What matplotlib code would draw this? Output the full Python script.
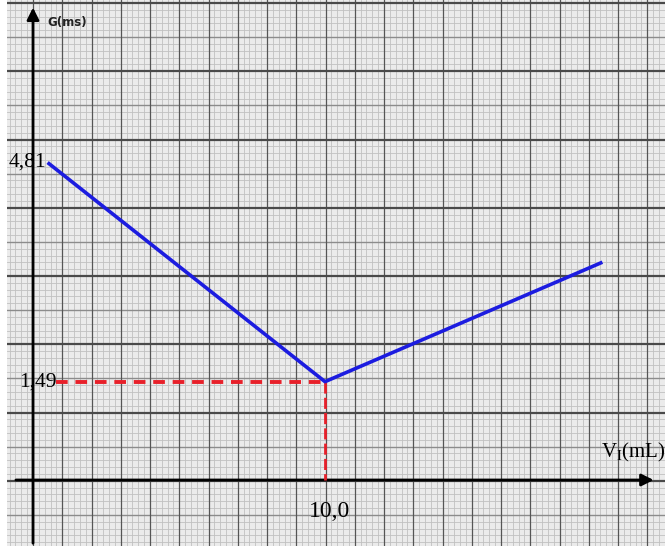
import numpy as np
import matplotlib
matplotlib.use("Agg")
import matplotlib.pyplot as plt

plt.rcParams["mathtext.fontset"] = "custom"
plt.rcParams["mathtext.rm"] = "Liberation Serif"

# Data (V in mL, G in ms)
v_points = [0.5, 10.0, 19.5]
g_points = [4.81, 1.49, 3.30]
v_min = 10.0
g_min = 1.49
g_start = 4.81

fig = plt.figure(figsize=(6.68, 5.46), dpi=100)
fig.patch.set_facecolor("white")
pos = [7 / 668, 0, 658 / 668, 1]

# graph paper background, drawn in pixel units
bg = fig.add_axes(pos)
bg.set_xlim(7, 665)
bg.set_ylim(546, 0)
bg.axis("off")
bg.add_patch(plt.Rectangle((7, 0), 658, 546, color="#ebebeb", zorder=0))
for x in np.arange(33 - 29.25 * 2, 668, 29.25 / 5):
    bg.axvline(x, color="#c0c0c0", lw=0.6, zorder=1)
for y in np.arange(3 - 68.25, 560, 6.825):
    bg.axhline(y, color="#c0c0c0", lw=0.6, zorder=1)
for y in np.arange(3 + 34.1, 560, 68.25):
    bg.axhline(y, color="#8c8c8c", lw=1.0, zorder=1)
for x in np.arange(33 - 29.25, 668, 29.25):
    bg.axvline(x, color="#555555", lw=0.9, zorder=2)
for y in np.arange(3, 560, 68.25):
    bg.axhline(y, color="#4a4a4a", lw=1.6, zorder=2)

# data axes on top, transparent
ax = fig.add_axes(pos)
ax.patch.set_alpha(0)
px_per_v = 29.2
px_per_g = 66.0
zero_y = 480.0
ax.set_xlim((7 - 33) / px_per_v, (665 - 33) / px_per_v)
ax.set_ylim(-(546 - zero_y) / px_per_g, zero_y / px_per_g)
for s in ax.spines.values():
    s.set_visible(False)
ax.set_xticks([])
ax.set_yticks([])
x0, x1 = ax.get_xlim()
y0, y1 = ax.get_ylim()

# axes with arrows
ax.annotate("", xy=(21.35, 0), xytext=(-0.68, 0),
            arrowprops=dict(arrowstyle="-|>", color="black", lw=2,
                            mutation_scale=18), zorder=4)
ax.annotate("", xy=(0, 7.2), xytext=(0, y0),
            arrowprops=dict(arrowstyle="-|>", color="black", lw=2,
                            mutation_scale=18), zorder=4)

# dashed guides
ax.plot([0.8, v_min], [g_min, g_min], color="#e8202a", lw=2.8,
        dashes=(3, 2), zorder=5)
ax.plot([v_min, v_min], [g_min, 0], color="#e8202a", lw=2.0,
        dashes=(4, 1.5), zorder=5)

# the curve
ax.plot(v_points, g_points, color="#1c1ce0", lw=2.6, zorder=6,
        solid_capstyle="butt")

# labels
serif = "Liberation Serif"
ax.text(0.47, g_start, "4,81", fontsize=15.5, family=serif, ha="right",
        va="center", zorder=7)
ax.text(0.82, g_min, "1,49", fontsize=15.5, family=serif, ha="right",
        va="center", zorder=7)
ax.text(v_min + 0.15, -0.48, "10,0", fontsize=17, family=serif,
        ha="center", va="center", zorder=7)
ax.text(21.65, 0.42, r"$\mathrm{V_{I}(mL)}$", fontsize=15, ha="right",
        va="center", zorder=7)
ax.text(0.5, 6.93, "G(ms)", fontsize=8.5, family="DejaVu Sans",
        fontweight="bold", color="#222222", ha="left", va="center",
        zorder=7)

fig.savefig("out.png", dpi=100)
